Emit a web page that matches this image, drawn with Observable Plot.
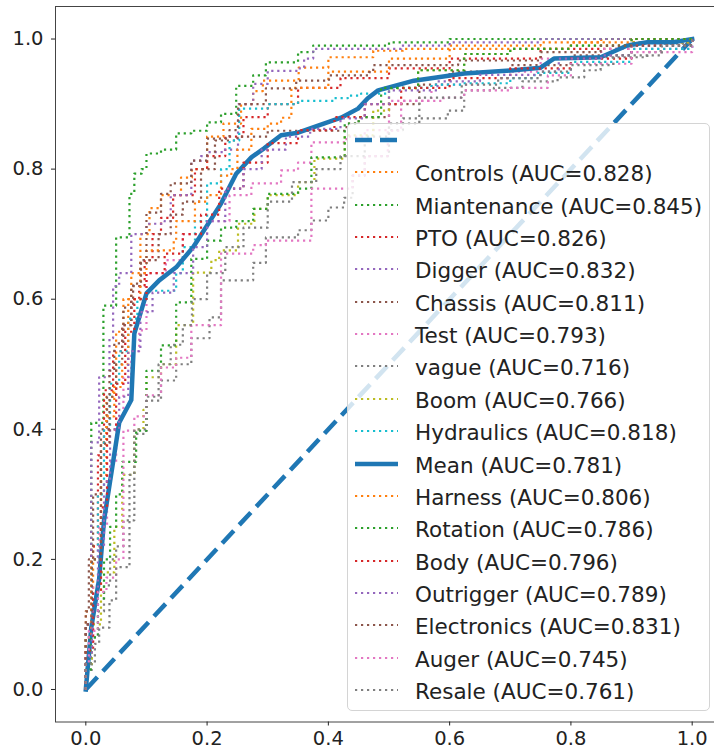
<!DOCTYPE html>
<html>
<head>
<meta charset="utf-8">
<script src="https://cdn.jsdelivr.net/npm/d3@7"></script>
<script src="https://cdn.jsdelivr.net/npm/@observablehq/plot@0.6"></script>
<style>
html, body { margin: 0; padding: 0; overflow: hidden; background: white; }
#wrap { position: relative; width: 722px; height: 749px; }
#legend {
  position: absolute; left: 347px; top: 123px; width: 363px; height: 588px;
  background: rgba(255,255,255,0.8); border: 1px solid #d4d4d4; border-radius: 5px;
  box-sizing: border-box; font-family: "DejaVu Sans"; font-size: 21.5px; color: #222;
}
.row { position: absolute; left: 0; height: 32px; width: 100%; }
.row svg { position: absolute; left: 7px; top: 0; }
.row span { position: absolute; left: 67px; top: 5px; white-space: nowrap; line-height: 26px; }
</style>
</head>
<body>
<div id="wrap"></div>
<script>
// ---------- data ----------
const ticks = [0, 0.2, 0.4, 0.6, 0.8, 1.0];
const diagonal = [[0, 0], [1, 1]];

const controls = [[0,0],[0,0.12],[0.012,0.22],[0.025,0.38],[0.034,0.45],[0.045,0.47],[0.05,0.55],[0.062,0.60],[0.075,0.64],[0.09,0.70],[0.105,0.74],[0.124,0.76],[0.157,0.787],[0.175,0.80],[0.2,0.85],[0.227,0.87],[0.256,0.90],[0.276,0.92],[0.292,0.936],[0.351,0.956],[0.4,0.972],[0.474,0.982],[0.523,0.985],[0.6,0.99],[0.75,0.995],[0.85,1],[1,1]];
const miantenance = [[0,0],[0,0.1],[0.009,0.41],[0.029,0.59],[0.05,0.695],[0.072,0.762],[0.08,0.793],[0.092,0.80],[0.1,0.824],[0.124,0.83],[0.149,0.855],[0.174,0.859],[0.2,0.872],[0.223,0.885],[0.248,0.928],[0.276,0.944],[0.297,0.964],[0.35,0.98],[0.375,0.99],[0.5,0.995],[0.6,1.0],[1,1]];
const pto = [[0,0],[0,0.1],[0.009,0.22],[0.02,0.36],[0.03,0.46],[0.045,0.52],[0.06,0.56],[0.075,0.6],[0.088,0.62],[0.097,0.66],[0.11,0.7],[0.124,0.725],[0.144,0.76],[0.18,0.8],[0.2,0.82],[0.23,0.85],[0.26,0.88],[0.3,0.9],[0.35,0.925],[0.42,0.94],[0.5,0.955],[0.6,0.97],[0.75,0.985],[0.9,0.995],[1,1]];
const digger = [[0,0],[0,0.1],[0.009,0.38],[0.022,0.48],[0.039,0.54],[0.045,0.62],[0.055,0.64],[0.075,0.66],[0.075,0.70],[0.1,0.716],[0.13,0.72],[0.14,0.76],[0.174,0.813],[0.19,0.82],[0.2,0.826],[0.227,0.83],[0.251,0.875],[0.252,0.90],[0.276,0.931],[0.3,0.951],[0.35,0.955],[0.36,0.97],[0.375,0.985],[0.52,0.99],[0.6,0.995],[0.75,1],[1,1]];
const chassis = [[0,0],[0,0.12],[0.005,0.2],[0.012,0.3],[0.025,0.4],[0.035,0.45],[0.05,0.5],[0.06,0.56],[0.075,0.62],[0.09,0.66],[0.12,0.7],[0.14,0.73],[0.16,0.75],[0.19,0.8],[0.213,0.844],[0.25,0.85],[0.3,0.859],[0.43,0.87],[0.45,0.88],[0.5,0.9],[0.55,0.93],[0.6,0.95],[0.7,0.96],[0.8,0.975],[0.9,0.99],[1,1]];
const test = [[0,0],[0,0.07],[0.012,0.16],[0.022,0.25],[0.035,0.35],[0.05,0.42],[0.062,0.48],[0.075,0.52],[0.088,0.552],[0.1,0.64],[0.132,0.66],[0.16,0.7],[0.2,0.72],[0.237,0.76],[0.273,0.778],[0.322,0.798],[0.35,0.81],[0.372,0.841],[0.43,0.85],[0.46,0.86],[0.5,0.905],[0.57,0.93],[0.65,0.95],[0.75,0.97],[0.85,0.985],[1,1]];
const vague = [[0,0],[0,0.03],[0.01,0.08],[0.02,0.12],[0.03,0.16],[0.04,0.2],[0.05,0.22],[0.062,0.26],[0.08,0.393],[0.1,0.444],[0.124,0.475],[0.149,0.5],[0.174,0.54],[0.204,0.572],[0.223,0.629],[0.276,0.656],[0.297,0.695],[0.35,0.706],[0.372,0.721],[0.4,0.741],[0.426,0.756],[0.44,0.79],[0.46,0.82],[0.5,0.86],[0.523,0.878],[0.597,0.89],[0.624,0.921],[0.673,0.925],[0.72,0.935],[0.778,0.941],[0.822,0.952],[0.849,0.972],[0.926,0.98],[0.948,0.993],[1,1]];
const boom = [[0,0],[0,0.04],[0.01,0.1],[0.025,0.18],[0.047,0.25],[0.06,0.33],[0.08,0.4],[0.095,0.43],[0.1,0.48],[0.124,0.5],[0.149,0.56],[0.177,0.641],[0.207,0.66],[0.22,0.675],[0.251,0.716],[0.278,0.739],[0.3,0.76],[0.35,0.78],[0.377,0.816],[0.427,0.852],[0.474,0.89],[0.5,0.924],[0.548,0.952],[0.624,0.977],[0.7,0.985],[0.8,0.99],[0.9,0.995],[1,1]];
const hydraulics = [[0,0],[0,0.08],[0.01,0.2],[0.02,0.3],[0.03,0.4],[0.04,0.47],[0.055,0.52],[0.07,0.57],[0.085,0.6],[0.1,0.613],[0.149,0.64],[0.16,0.68],[0.18,0.72],[0.2,0.778],[0.223,0.8],[0.237,0.844],[0.253,0.893],[0.3,0.9],[0.35,0.905],[0.41,0.909],[0.432,0.913],[0.454,0.916],[0.5,0.925],[0.57,0.93],[0.62,0.932],[0.7,0.94],[0.74,0.948],[0.8,0.965],[0.9,0.985],[1,1]];
const mean = [[0,0],[0.009,0.095],[0.022,0.17],[0.03,0.26],[0.055,0.41],[0.075,0.445],[0.08,0.547],[0.1,0.609],[0.121,0.629],[0.149,0.649],[0.177,0.68],[0.195,0.706],[0.223,0.747],[0.248,0.793],[0.273,0.818],[0.294,0.832],[0.322,0.852],[0.35,0.856],[0.383,0.867],[0.421,0.879],[0.449,0.893],[0.465,0.909],[0.482,0.921],[0.541,0.936],[0.624,0.947],[0.706,0.952],[0.75,0.956],[0.772,0.97],[0.849,0.972],[0.893,0.99],[0.926,0.995],[0.969,0.995],[1,1]];
const harness = [[0,0],[0,0.08],[0.009,0.2],[0.025,0.33],[0.034,0.42],[0.047,0.465],[0.06,0.5],[0.07,0.6],[0.09,0.64],[0.1,0.675],[0.145,0.69],[0.149,0.72],[0.18,0.75],[0.2,0.76],[0.223,0.79],[0.24,0.80],[0.25,0.83],[0.273,0.862],[0.3,0.87],[0.322,0.879],[0.339,0.925],[0.4,0.95],[0.5,0.97],[0.6,0.985],[0.8,0.995],[0.9,1],[1,1]];
const rotation = [[0,0],[0,0.03],[0.008,0.08],[0.02,0.14],[0.03,0.2],[0.04,0.25],[0.05,0.3],[0.06,0.35],[0.083,0.398],[0.1,0.49],[0.124,0.529],[0.149,0.595],[0.174,0.662],[0.2,0.69],[0.223,0.71],[0.248,0.72],[0.276,0.739],[0.3,0.762],[0.35,0.77],[0.372,0.818],[0.427,0.87],[0.45,0.88],[0.487,0.925],[0.548,0.952],[0.624,0.977],[0.7,0.985],[0.8,0.99],[0.9,1],[1,1]];
const body = [[0,0],[0,0.06],[0.012,0.15],[0.025,0.28],[0.035,0.4],[0.05,0.47],[0.065,0.55],[0.08,0.6],[0.1,0.64],[0.13,0.67],[0.16,0.7],[0.19,0.73],[0.22,0.77],[0.26,0.81],[0.3,0.84],[0.35,0.86],[0.41,0.88],[0.46,0.9],[0.52,0.925],[0.6,0.94],[0.7,0.955],[0.8,0.97],[0.9,0.99],[1,1]];
const outrigger = [[0,0],[0,0.05],[0.01,0.12],[0.02,0.22],[0.03,0.32],[0.04,0.4],[0.055,0.45],[0.07,0.52],[0.09,0.58],[0.11,0.61],[0.145,0.64],[0.177,0.68],[0.2,0.72],[0.23,0.77],[0.26,0.8],[0.29,0.83],[0.33,0.85],[0.37,0.862],[0.42,0.878],[0.46,0.9],[0.5,0.921],[0.58,0.935],[0.65,0.945],[0.75,0.95],[0.78,0.97],[0.85,0.975],[0.9,0.99],[1,1]];
const electronics = [[0,0],[0,0.1],[0.01,0.2],[0.025,0.378],[0.039,0.49],[0.047,0.532],[0.062,0.587],[0.078,0.624],[0.091,0.655],[0.1,0.733],[0.124,0.762],[0.14,0.778],[0.174,0.813],[0.2,0.847],[0.237,0.86],[0.251,0.9],[0.297,0.924],[0.347,0.936],[0.401,0.944],[0.467,0.949],[0.474,0.96],[0.614,0.967],[0.75,0.98],[0.849,0.99],[1,1]];
const auger = [[0,0],[0,0.04],[0.005,0.09],[0.02,0.15],[0.034,0.172],[0.05,0.2],[0.062,0.286],[0.062,0.398],[0.08,0.42],[0.1,0.452],[0.124,0.495],[0.149,0.51],[0.174,0.56],[0.223,0.67],[0.276,0.683],[0.297,0.69],[0.372,0.77],[0.421,0.77],[0.44,0.79],[0.46,0.82],[0.498,0.859],[0.52,0.905],[0.59,0.91],[0.624,0.921],[0.7,0.925],[0.762,0.944],[0.8,0.962],[0.9,0.98],[1,1]];
const resale = [[0,0],[0,0.04],[0.015,0.07],[0.022,0.095],[0.039,0.137],[0.05,0.188],[0.072,0.264],[0.072,0.33],[0.08,0.4],[0.1,0.45],[0.12,0.5],[0.14,0.53],[0.16,0.56],[0.175,0.6],[0.2,0.64],[0.23,0.68],[0.26,0.71],[0.3,0.75],[0.34,0.78],[0.38,0.8],[0.42,0.82],[0.46,0.85],[0.5,0.87],[0.55,0.91],[0.62,0.93],[0.68,0.94],[0.75,0.95],[0.8,0.96],[0.87,0.975],[0.95,0.99],[1,1]];

const names = ["Controls","Miantenance","PTO","Digger","Chassis","Test","vague","Boom","Hydraulics","Mean","Harness","Rotation","Body","Outrigger","Electronics","Auger","Resale"];
const aucs = [0.828,0.845,0.826,0.832,0.811,0.793,0.716,0.766,0.818,0.781,0.806,0.786,0.796,0.789,0.831,0.745,0.761];
const curves = [controls,miantenance,pto,digger,chassis,test,vague,boom,hydraulics,mean,harness,rotation,body,outrigger,electronics,auger,resale];

// ---------- styles ----------
const tab10 = ["#1f77b4","#ff7f0e","#2ca02c","#d62728","#9467bd","#8c564b","#e377c2","#7f7f7f","#bcbd22","#17becf"];
const colorOf = i => tab10[(i + 1) % 10];  // diagonal takes C0 first
const meanIndex = names.indexOf("Mean");

const marks = [
  Plot.line(diagonal, {x: d => d[0], y: d => d[1], stroke: tab10[0], strokeWidth: 4.5, strokeDasharray: "17,8", strokeLinecap: "butt"})
];
curves.forEach((c, i) => {
  if (i === meanIndex) {
    marks.push(Plot.line(c, {x: d => d[0], y: d => d[1], stroke: tab10[0], strokeWidth: 4.5, strokeLinejoin: "round", strokeLinecap: "square"}));
  } else {
    marks.push(Plot.line(c, {x: d => d[0], y: d => d[1], curve: "step-after", stroke: colorOf(i), strokeWidth: 2.2, strokeDasharray: "2.2,3.8", strokeLinecap: "butt"}));
  }
});
marks.push(Plot.frame({stroke: "#444", strokeWidth: 1}));
marks.push(Plot.axisX({ticks, tickFormat: d3.format(".1f"), tickSize: 4, tickPadding: 5, fontSize: 19.5, label: null, stroke: "#222", color: "#222"}));
marks.push(Plot.axisY({ticks, tickFormat: d3.format(".1f"), tickSize: 4, tickPadding: 8, fontSize: 19.5, label: null, stroke: "#222", color: "#222"}));

const chart = Plot.plot({
  width: 722, height: 749,
  marginLeft: 55, marginRight: 0, marginTop: 6, marginBottom: 27.5,
  x: {domain: [-0.05, 1.05]},
  y: {domain: [-0.05, 1.05]},
  style: {fontFamily: "DejaVu Sans", color: "#222", background: "white", overflow: "visible"},
  marks
});
const wrap = document.getElementById("wrap");
wrap.appendChild(chart);

// ---------- legend ----------
const legend = document.createElement("div");
legend.id = "legend";
wrap.appendChild(legend);
const rowStep = 32.35;
const entries = [{label: "", color: tab10[0], kind: "dash"}].concat(
  names.map((n, i) => ({label: `${n} (AUC=${aucs[i].toFixed(3)})`, color: i === meanIndex ? tab10[0] : colorOf(i), kind: i === meanIndex ? "solid" : "dot"}))
);
entries.forEach((e, k) => {
  const row = document.createElement("div");
  row.className = "row";
  row.style.top = (0 + k * rowStep) + "px";
  const svg = d3.create("svg").attr("width", 46).attr("height", 32);
  const ln = svg.append("line").attr("x1", 0).attr("x2", 43).attr("y1", 16).attr("y2", 16).attr("stroke", e.color);
  if (e.kind === "dash") ln.attr("stroke-width", 4.5).attr("stroke-dasharray", "17,8");
  else if (e.kind === "solid") ln.attr("stroke-width", 4.5);
  else ln.attr("stroke-width", 2.2).attr("stroke-dasharray", "2.2,3.8");
  row.appendChild(svg.node());
  const span = document.createElement("span");
  span.textContent = e.label;
  row.appendChild(span);
  legend.appendChild(row);
});
</script>
</body>
</html>
